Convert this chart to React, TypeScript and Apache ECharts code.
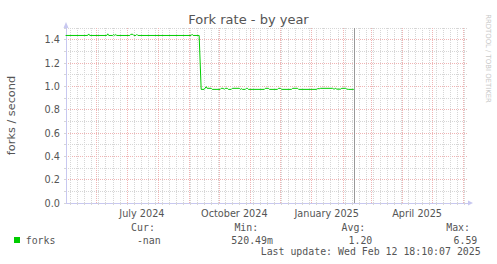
import React, { useEffect, useRef } from "react";
import * as echarts from "echarts";

const chartTitle = "Fork rate - by year";
const yAxisName = "forks / second";
const seriesName = "forks";
const seriesColor = "#00cc00";

// daily consolidated fork rate (forks / second)
const dates = [
  "2024-05-01", "2024-05-23", "2024-05-24", "2024-05-25", "2024-06-11", "2024-06-12", "2024-06-13",
  "2024-06-17", "2024-06-18", "2024-06-19", "2024-06-20", "2024-06-21", "2024-07-04", "2024-07-05",
  "2024-07-07", "2024-07-08", "2024-07-10", "2024-07-11", "2024-07-12", "2024-09-03", "2024-09-04",
  "2024-09-05", "2024-09-11", "2024-09-13", "2024-09-16", "2024-09-18", "2024-09-19", "2024-09-23",
  "2024-09-24", "2024-10-02", "2024-10-03", "2024-10-05", "2024-10-06", "2024-10-07", "2024-10-09",
  "2024-10-10", "2024-10-13", "2024-10-14", "2024-10-21", "2024-10-22", "2024-10-23", "2024-10-24",
  "2024-10-27", "2024-10-28", "2024-10-29", "2024-10-30", "2024-11-15", "2024-11-16", "2024-11-19",
  "2024-11-20", "2024-11-28", "2024-11-29", "2024-12-01", "2024-12-02", "2024-12-12", "2024-12-13",
  "2024-12-18", "2024-12-19", "2025-01-06", "2025-01-07", "2025-01-09", "2025-01-10", "2025-01-22",
  "2025-01-23", "2025-01-24", "2025-01-25", "2025-01-26", "2025-01-30", "2025-01-31", "2025-02-04",
  "2025-02-05", "2025-02-07", "2025-02-12",
];
const forks = [
  1.436, 1.436, 1.449, 1.436, 1.436, 1.45, 1.436,
  1.436, 1.444, 1.436, 1.444, 1.436, 1.436, 1.446,
  1.446, 1.436, 1.436, 1.445, 1.436, 1.436, 1.446,
  1.436, 1.436, 0.974, 0.974, 0.997, 0.983, 0.983,
  0.974, 0.974, 0.983, 0.983, 0.974, 0.983, 0.983,
  0.974, 0.974, 0.983, 0.983, 0.974, 0.98, 0.974,
  0.974, 0.983, 0.983, 0.974, 0.974, 0.983, 0.983,
  0.974, 0.974, 0.983, 0.983, 0.974, 0.974, 0.983,
  0.983, 0.974, 0.974, 0.98, 0.98, 0.983, 0.983,
  0.977, 0.978, 0.983, 0.976, 0.976, 0.983, 0.983,
  0.976, 0.974, 0.974,
];

const xStart = "2024-05-01T10:19:00Z";
const xEnd = "2025-06-05T16:20:00Z";
const nowTime = "2025-02-12T18:10:07Z";

const monthLabels = ["July 2024", "October 2024", "January 2025", "April 2025"];
const monthLabelDates = ["2024-07-16", "2024-10-16", "2025-01-16", "2025-04-16"];

const yMin = 0;
const yMax = 1.5;
const yMinorStep = 0.1;

const statHeaders = ["Cur:", "Min:", "Avg:", "Max:"];
const statValues = ["-nan", "520.49m", "1.20", "6.59"];
const lastUpdateText = "Last update: Wed Feb 12 18:10:07 2025";
const watermarkText = "RRDTOOL / TOBI OETIKER";

const DAY = 86400000;

function monthStarts(a: number, b: number): number[] {
  const out: number[] = [];
  const d = new Date(a);
  let y = d.getUTCFullYear();
  let m = d.getUTCMonth() + 1;
  for (;;) {
    if (m > 11) { m = 0; y++; }
    const t = Date.UTC(y, m, 1);
    if (t > b) break;
    out.push(t);
    m++;
  }
  return out;
}

function mondays(a: number, b: number): number[] {
  const out: number[] = [];
  const d = new Date(a);
  let t = Date.UTC(d.getUTCFullYear(), d.getUTCMonth(), d.getUTCDate());
  while (new Date(t).getUTCDay() !== 1) t += DAY;
  for (; t <= b; t += 7 * DAY) out.push(t);
  return out;
}

export default function App() {
  const ref = useRef<HTMLDivElement>(null);
  useEffect(() => {
    if (!ref.current) return;
    const chart = echarts.init(ref.current, undefined, { renderer: "svg" });
    const xMin = Date.parse(xStart);
    const xMax = Date.parse(xEnd);
    const labelTimes = monthLabelDates.map((d) => Date.parse(d));
    const data = dates.map((d, i) => [Date.parse(d), forks[i]]);
    const sansFont = "DejaVu Sans";
    const monoFont = "'DejaVu Sans Mono'";
    const textColor = "#555555";
    const axisColor = "#c8c8f0";
    const minorGrid = "#d6d6d6";
    const majorGrid = "#f0b4b4";

    const headerX = [131.1, 234.4, 341.5, 446.2];
    const valueX = [136.9, 231.3, 348.5, 453.5];
    const legendFont = `9.9px ${monoFont}`;

    const graphics: any[] = [
      {
        type: "text", x: 248.5, y: 19,
        style: { text: chartTitle, font: `13px '${sansFont}'`, fill: textColor, textAlign: "center", textVerticalAlign: "middle" },
      },
      {
        type: "text", x: 11, y: 115.5, rotation: Math.PI / 2,
        style: { text: yAxisName, font: `11.3px '${sansFont}'`, fill: textColor, textAlign: "center", textVerticalAlign: "middle" },
      },
      {
        type: "text", x: 488, y: 58.5, rotation: -Math.PI / 2,
        style: { text: watermarkText, font: `6.9px '${sansFont}'`, fill: "#c8c8c8", textAlign: "center", textVerticalAlign: "middle" },
      },
      { type: "rect", shape: { x: 14, y: 237, width: 6, height: 6 }, style: { fill: seriesColor } },
      {
        type: "text", x: 25.7, y: 240,
        style: { text: seriesName, font: legendFont, fill: textColor, textAlign: "left", textVerticalAlign: "middle" },
      },
      {
        type: "text", x: 260.7, y: 251.7,
        style: { text: lastUpdateText, font: legendFont, fill: textColor, textAlign: "left", textVerticalAlign: "middle" },
      },
    ];
    statHeaders.forEach((h, i) => {
      graphics.push({
        type: "text", x: headerX[i], y: 227.7,
        style: { text: h, font: legendFont, fill: textColor, textAlign: "left", textVerticalAlign: "middle" },
      });
      graphics.push({
        type: "text", x: valueX[i], y: 240,
        style: { text: statValues[i], font: legendFont, fill: textColor, textAlign: "left", textVerticalAlign: "middle" },
      });
    });

    chart.setOption({
      animation: false,
      backgroundColor: "#ffffff",
      grid: { left: 66, top: 28, width: 402, height: 175, containLabel: false, outerBoundsMode: "none" },
      xAxis: [
        {
          type: "value", position: "bottom", min: xMin, max: xMax,
          axisLine: {
            show: true, lineStyle: { color: axisColor, width: 1 },
            symbol: ["none", "triangle"], symbolSize: [5, 5], symbolOffset: [0, 2.5],
          },
          axisTick: { show: true, customValues: mondays(xMin, xMax), length: 2, inside: false, lineStyle: { color: minorGrid } },
          splitLine: { show: true, lineStyle: { color: minorGrid, type: [1, 1], width: 1 } },
          axisLabel: {
            show: true, customValues: labelTimes, margin: 5,
            fontFamily: sansFont, fontSize: 9.7, color: textColor,
            formatter: (v: number) => {
              const i = labelTimes.findIndex((t) => Math.abs(t - v) < DAY);
              return i >= 0 ? monthLabels[i] : "";
            },
          },
        },
        {
          type: "value", position: "top", min: xMin, max: xMax,
          axisLine: { show: false },
          axisTick: { show: false, customValues: monthStarts(xMin, xMax) },
          splitLine: { show: true, lineStyle: { color: majorGrid, type: [1, 1], width: 1 } },
          axisLabel: { show: false },
        },
      ],
      yAxis: [
        {
          type: "value", min: yMin, max: yMax, interval: yMinorStep,
          axisLine: {
            show: true, lineStyle: { color: axisColor, width: 1 },
            symbol: ["none", "triangle"], symbolSize: [5, 6], symbolOffset: [0, 3],
          },
          axisTick: { show: true, length: 2, lineStyle: { color: minorGrid } },
          splitLine: { show: true, lineStyle: { color: [majorGrid, minorGrid], type: [1, 1], width: 1 } },
          axisLabel: {
            margin: 6, fontFamily: sansFont, fontSize: 9.7, color: textColor,
            formatter: (v: number) => (Math.round(v * 10) % 2 === 0 ? v.toFixed(1) : ""),
          },
        },
      ],
      series: [
        {
          name: seriesName,
          type: "line",
          xAxisIndex: 0,
          yAxisIndex: 0,
          data,
          showSymbol: false,
          symbol: "none",
          clip: true,
          lineStyle: { color: seriesColor, width: 1 },
          z: 5,
          markLine: {
            silent: true,
            symbol: ["none", "none"],
            label: { show: false },
            lineStyle: { color: "#999999", type: "solid", width: 1 },
            data: [{ xAxis: Date.parse(nowTime) }],
          },
        },
      ],
      graphic: graphics,
    });
    return () => chart.dispose();
  }, []);
  return (
    <div
      ref={ref}
      style={{ position: "fixed", left: 0, top: 0, width: 497, height: 264, background: "#fff" }}
    />
  );
}
